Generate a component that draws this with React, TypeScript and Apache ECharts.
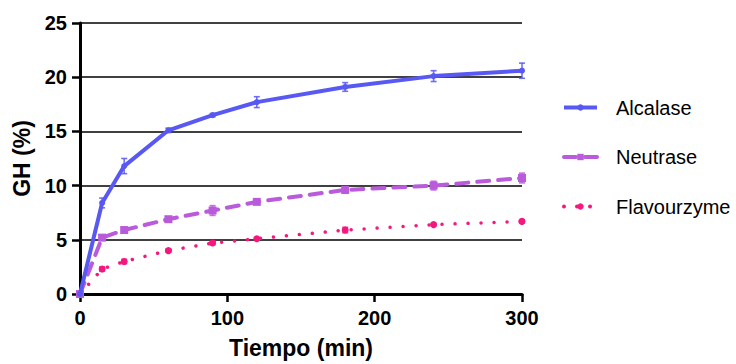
import React, { useEffect, useRef } from "react";
import * as echarts from "echarts";

const times = [0, 15, 30, 60, 90, 120, 180, 240, 300];
const alcalase = [0, 8.4, 11.8, 15.1, 16.5, 17.7, 19.1, 20.1, 20.6];
const alcalaseErr = [0, 0.45, 0.7, 0.2, 0.15, 0.5, 0.4, 0.5, 0.7];
const neutrase = [0, 5.2, 5.9, 6.9, 7.7, 8.5, 9.6, 10.0, 10.7];
const neutraseErr = [0, 0.2, 0.2, 0.2, 0.45, 0.2, 0.3, 0.4, 0.45];
const flavourzyme = [0, 2.3, 3.0, 4.0, 4.7, 5.1, 5.9, 6.4, 6.7];
const flavourzymeErr = [0, 0.2, 0.2, 0.15, 0.15, 0.1, 0.25, 0.1, 0.15];
const xTicks = [0, 100, 200, 300];
const yTicks = [0, 5, 10, 15, 20, 25];

const C_ALC = "#5858F2";
const C_NEU = "#B95BDA";
const C_FLA = "#F5187F";
const FONT = "'Liberation Sans', Arial, sans-serif";

function pairs(ys: number[]) {
  return times.map((t, i) => [t, ys[i]]);
}

function errSeries(name: string, ys: number[], errs: number[], color: string) {
  return {
    type: "custom",
    name,
    z: 5,
    silent: true,
    data: times.map((t, i) => [t, ys[i], errs[i]]),
    renderItem: (params: any, api: any) => {
      const x = api.value(0);
      const y = api.value(1);
      const e = api.value(2);
      if (!e) return null;
      const lo = api.coord([x, y - e]);
      const hi = api.coord([x, y + e]);
      const w = 3;
      const st = { stroke: color, lineWidth: 1.6, opacity: 0.85 };
      return {
        type: "group",
        children: [
          { type: "line", shape: { x1: lo[0], y1: lo[1], x2: hi[0], y2: hi[1] }, style: st },
          { type: "line", shape: { x1: lo[0] - w, y1: lo[1], x2: lo[0] + w, y2: lo[1] }, style: st },
          { type: "line", shape: { x1: hi[0] - w, y1: hi[1], x2: hi[0] + w, y2: hi[1] }, style: st },
        ],
      };
    },
  };
}

export default function App() {
  const ref = useRef<HTMLDivElement>(null);
  useEffect(() => {
    if (!ref.current) return;
    const chart = echarts.init(ref.current, null, { renderer: "svg" });
    chart.setOption({
      animation: false,
      grid: { left: 80, right: 214, top: 23, bottom: 63, containLabel: false },
      xAxis: {
        type: "value",
        min: xTicks[0],
        max: xTicks[xTicks.length - 1],
        interval: 100,
        name: "Tiempo (min)",
        nameLocation: "middle",
        nameGap: 42,
        nameTextStyle: { fontFamily: FONT, fontWeight: "bold", fontSize: 23, color: "#000" },
        axisLine: { show: true, lineStyle: { color: "#000", width: 3 } },
        axisTick: { show: true, length: 8, lineStyle: { color: "#000", width: 2.5 } },
        axisLabel: { fontFamily: FONT, fontWeight: "bold", fontSize: 20, color: "#000", margin: 14 },
        splitLine: { show: false },
      },
      yAxis: {
        type: "value",
        min: yTicks[0],
        max: yTicks[yTicks.length - 1],
        interval: 5,
        name: "GH (%)",
        nameLocation: "middle",
        nameGap: 47,
        nameTextStyle: { fontFamily: FONT, fontWeight: "bold", fontSize: 23, color: "#000" },
        axisLine: { show: true, lineStyle: { color: "#000", width: 3 } },
        axisTick: { show: true, length: 8, lineStyle: { color: "#000", width: 2.5 } },
        axisLabel: { fontFamily: FONT, fontWeight: "bold", fontSize: 20, color: "#000", margin: 13 },
        splitLine: { show: true, lineStyle: { color: "#000", width: 1.5 } },
      },
      legend: {
        orient: "vertical",
        left: 557,
        top: 92.5,
        padding: 5,
        itemWidth: 33,
        itemHeight: 8,
        itemGap: 29.5,
        lineStyle: { width: 4 },
        data: ["Alcalase", "Neutrase", "Flavourzyme"],
        textStyle: { fontFamily: FONT, fontSize: 20, color: "#000", padding: [0, 0, 0, 14] },
      },
      series: [
        {
          type: "line",
          name: "Alcalase",
          data: pairs(alcalase),
          color: C_ALC,
          symbol: "circle",
          symbolSize: 6,
          lineStyle: { width: 4, color: C_ALC },
          itemStyle: { color: C_ALC },
          z: 4,
        },
        {
          type: "line",
          name: "Neutrase",
          data: pairs(neutrase),
          color: C_NEU,
          symbol: "rect",
          symbolSize: 8,
          lineStyle: { width: 4, color: C_NEU, type: [12, 9], cap: "round" },
          itemStyle: { color: C_NEU },
          z: 3,
        },
        {
          type: "line",
          name: "Flavourzyme",
          data: pairs(flavourzyme),
          color: C_FLA,
          symbol: "circle",
          symbolSize: 7,
          lineStyle: { width: 3.5, color: C_FLA, type: [0.01, 13], cap: "round" },
          itemStyle: { color: C_FLA },
          z: 2,
        },
        errSeries("Alcalase err", alcalase, alcalaseErr, C_ALC),
        errSeries("Neutrase err", neutrase, neutraseErr, C_NEU),
        errSeries("Flavourzyme err", flavourzyme, flavourzymeErr, C_FLA),
      ],
    });
    return () => chart.dispose();
  }, []);
  return (
    <div
      ref={ref}
      style={{ position: "fixed", left: 0, top: 0, width: 736, height: 364, background: "#fff" }}
    />
  );
}
